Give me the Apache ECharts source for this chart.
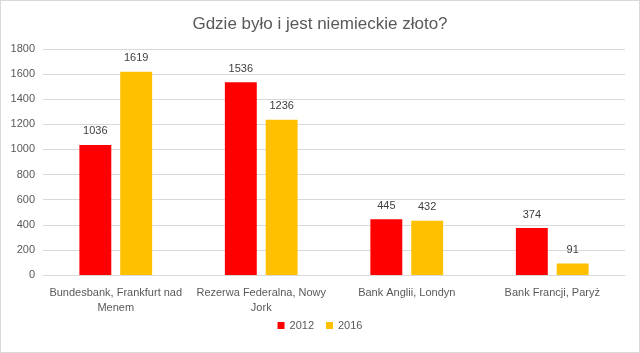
<!DOCTYPE html>
<html>
<head>
<meta charset="utf-8">
<script src="https://cdn.jsdelivr.net/npm/echarts@6/dist/echarts.min.js"></script>
<style>
  html, body { margin: 0; padding: 0; background: #fff; }
  #chart { width: 640px; height: 353px; box-sizing: border-box; border: 1px solid #d9d9d9; }
</style>
</head>
<body>
<div id="chart"></div>
<script>
// dane
var banki = ['Bundesbank, Frankfurt nad\nMenem', 'Rezerwa Federalna, Nowy\nJork', 'Bank Anglii, Londyn', 'Bank Francji, Paryż'];
var rok2012 = [1036, 1536, 445, 374];
var rok2016 = [1619, 1236, 432, 91];

var chart = echarts.init(document.getElementById('chart'));
var font = 'Liberation Sans';

var option = {
  animation: false,
  title: {
    text: 'Gdzie było i jest niemieckie złoto?',
    left: 'center',
    top: 10,
    textStyle: { color: '#595959', fontSize: 17, fontWeight: 'normal', fontFamily: font }
  },
  legend: {
    bottom: 16,
    left: 'center',
    itemWidth: 7,
    itemHeight: 7,
    itemGap: 12,
    icon: 'rect',
    textStyle: { color: '#595959', fontSize: 11, fontFamily: font }
  },
  grid: { left: 42, right: 14, top: 48, bottom: 77, containLabel: false },
  xAxis: {
    type: 'category',
    data: banki,
    axisLine: { lineStyle: { color: '#d9d9d9' } },
    axisTick: { show: false },
    axisLabel: { color: '#595959', fontSize: 11, fontFamily: font, margin: 10, lineHeight: 15, interval: 0 }
  },
  yAxis: {
    type: 'value',
    min: 0,
    max: 1800,
    interval: 200,
    axisLine: { show: false },
    axisTick: { show: false },
    splitLine: { lineStyle: { color: '#d9d9d9' } },
    axisLabel: {
      color: '#595959', fontSize: 11, fontFamily: font, margin: 8,
      formatter: function (v) { return String(v); }
    }
  },
  series: [{
    name: '2012',
    type: 'bar',
    data: rok2012,
    barGap: '28%',
    barCategoryGap: '50%',
    itemStyle: { color: '#ff0000' },
    label: { show: true, position: 'top', color: '#404040', fontSize: 11, fontFamily: font, distance: 8 }
  }, {
    name: '2016',
    type: 'bar',
    data: rok2016,
    itemStyle: { color: '#ffc000' },
    label: { show: true, position: 'top', color: '#404040', fontSize: 11, fontFamily: font, distance: 8 }
  }]
};
chart.setOption(option);
</script>
</body>
</html>
